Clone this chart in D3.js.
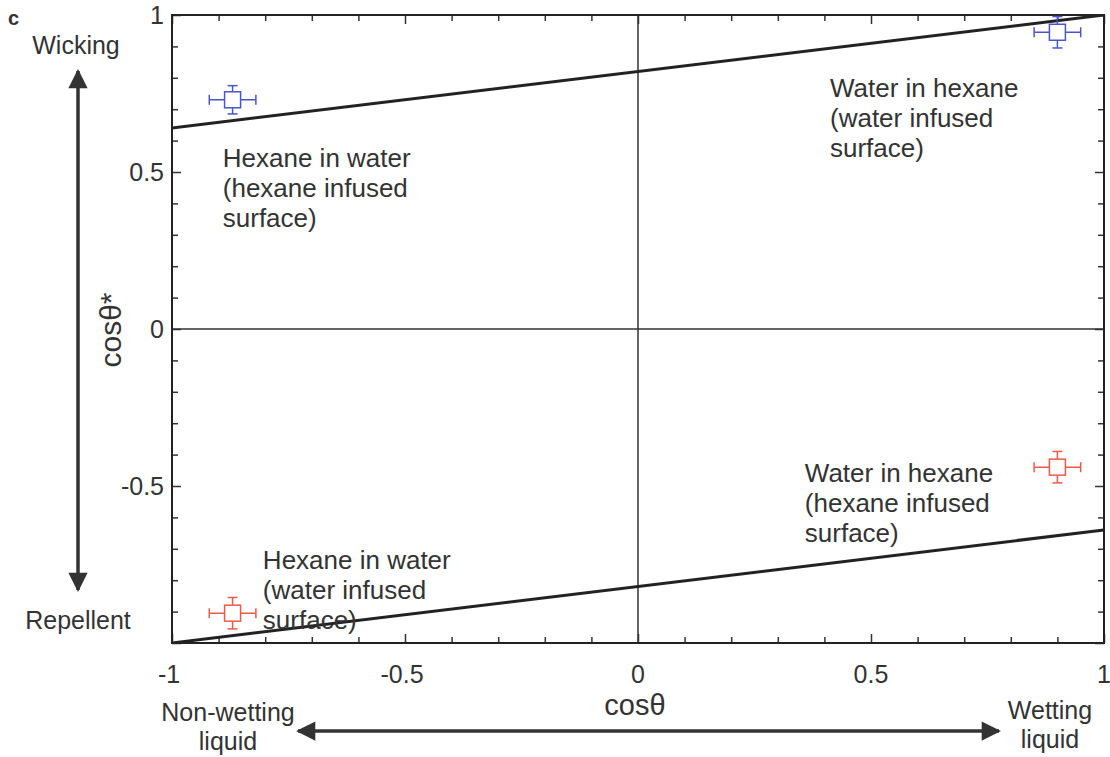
<!DOCTYPE html>
<html>
<head>
<meta charset="utf-8">
<script src="https://cdn.jsdelivr.net/npm/d3@7"></script>
<style>
  body { margin: 0; background: #fff; }
  text { font-family: "Liberation Sans", Arial, sans-serif; fill: #333; }
</style>
</head>
<body>
<div id="chart"></div>
<script>
// data
var xTicks = [-1, -0.5, 0, 0.5, 1];
var yTicks = [-0.5, 0, 0.5, 1];
var minorTicks = d3.range(-10, 11).map(function(i){ return i / 10; });

var boundLines = [
    [[-1, 0.64], [1, 1.0]],
    [[-1, -1.0], [1, -0.64]]
];

var pointsX = [-0.87, 0.90, 0.90, -0.87];
var pointsY = [0.73, 0.945, -0.44, -0.905];
var errX = [0.05, 0.05, 0.05, 0.05];
var errY = [0.045, 0.05, 0.05, 0.05];
var pointColor = ["#4a55cc", "#4a55cc", "#ee5a4a", "#ee5a4a"];

var notes = [
    {x: -0.891, y: 0.516, lines: ["Hexane in water", "(hexane infused", "surface)"]},
    {x: 0.412, y: 0.739, lines: ["Water in hexane", "(water infused", "surface)"]},
    {x: 0.358, y: -0.487, lines: ["Water in hexane", "(hexane infused", "surface)"]},
    {x: -0.805, y: -0.764, lines: ["Hexane in water", "(water infused", "surface)"]}
];

var margin = {top: 15, right: 6, bottom: 114, left: 172},
    width = 1110 - margin.left - margin.right,
    height = 757 - margin.top - margin.bottom;

var svgRoot = d3.select("#chart")
    .append("svg")
    .attr("width", 1110)
    .attr("height", 757);

var defs = svgRoot.append("defs");
defs.append("marker")
    .attr("id", "head")
    .attr("viewBox", "0 0 10 10")
    .attr("refX", 9).attr("refY", 5)
    .attr("markerWidth", 6.5).attr("markerHeight", 5.5)
    .attr("markerUnits", "strokeWidth")
    .attr("orient", "auto-start-reverse")
    .append("path")
    .attr("d", "M0,0 L10,5 L0,10 Z")
    .attr("fill", "#333");

var svg = svgRoot.append("g")
    .attr("transform", "translate(" + margin.left + "," + margin.top + ")");

var xScale = d3.scaleLinear().domain([-1, 1]).range([0, width]);
var yScale = d3.scaleLinear().domain([-1, 1]).range([height, 0]);

// inward ticks on all four sides, longer at the labelled values
function tickLen(v) { return Math.abs(v * 2 - Math.round(v * 2)) < 1e-6 ? 9 : 6; }

svg.append("g").attr("transform", "translate(0," + height + ")")
    .call(d3.axisBottom(xScale).tickValues(minorTicks).tickFormat("").tickSizeOuter(0).tickSizeInner(-6));
svg.append("g")
    .call(d3.axisTop(xScale).tickValues(minorTicks).tickFormat("").tickSizeOuter(0).tickSizeInner(-6));
svg.append("g")
    .call(d3.axisLeft(yScale).tickValues(minorTicks).tickFormat("").tickSizeOuter(0).tickSizeInner(-6));
svg.append("g").attr("transform", "translate(" + width + ",0)")
    .call(d3.axisRight(yScale).tickValues(minorTicks).tickFormat("").tickSizeOuter(0).tickSizeInner(-6));

svg.selectAll(".domain").remove();
svg.selectAll(".tick line").attr("stroke", "#333").attr("stroke-width", 1.5);
svg.selectAll(".tick").each(function(d) {
    var l = d3.select(this).select("line");
    var len = tickLen(d);
    if (l.attr("x2") !== null && +l.attr("x2") !== 0) l.attr("x2", +l.attr("x2") > 0 ? len : -len);
    if (l.attr("y2") !== null && +l.attr("y2") !== 0) l.attr("y2", +l.attr("y2") > 0 ? len : -len);
});

// zero lines
svg.append("line")
    .attr("x1", xScale(0)).attr("x2", xScale(0))
    .attr("y1", 0).attr("y2", height)
    .attr("stroke", "#333").attr("stroke-width", 1.5);
svg.append("line")
    .attr("x1", 0).attr("x2", width)
    .attr("y1", yScale(0)).attr("y2", yScale(0))
    .attr("stroke", "#333").attr("stroke-width", 1.5);

// frame
svg.append("rect")
    .attr("width", width).attr("height", height)
    .attr("fill", "none").attr("stroke", "#222").attr("stroke-width", 2);

// tick labels
svg.selectAll(".xlab").data(xTicks).enter().append("text")
    .attr("x", function(d){ return xScale(d) - (d < 0 ? 3 : 0); })
    .attr("y", height + 40)
    .attr("text-anchor", "middle")
    .style("font-size", "25px")
    .text(function(d){ return String(d); });

svg.selectAll(".ylab").data(yTicks).enter().append("text")
    .attr("x", -8)
    .attr("y", function(d){ return yScale(d) + 9; })
    .attr("text-anchor", "end")
    .style("font-size", "25px")
    .text(function(d){ return String(d); });

// boundary lines
var line = d3.line()
    .x(function(d){ return xScale(d[0]); })
    .y(function(d){ return yScale(d[1]); });

svg.append("clipPath").attr("id", "clip")
    .append("rect").attr("width", width).attr("height", height);

svg.selectAll(".bound").data(boundLines).enter().append("path")
    .attr("d", line)
    .attr("clip-path", "url(#clip)")
    .attr("fill", "none")
    .attr("stroke", "#222")
    .attr("stroke-width", 3);

// annotations
notes.forEach(function(n) {
    var t = svg.append("text")
        .attr("x", xScale(n.x))
        .attr("y", yScale(n.y))
        .style("font-size", "26px");
    n.lines.forEach(function(s, i) {
        t.append("tspan").attr("x", xScale(n.x)).attr("dy", i === 0 ? 0 : 30).text(s);
    });
});

// data points with error bars
var pts = svg.selectAll(".pt").data(pointsX).enter().append("g")
    .attr("stroke", function(d, i){ return pointColor[i]; })
    .attr("stroke-width", 1.5)
    .attr("fill", "none");

pts.append("line")
    .attr("x1", function(d, i){ return xScale(d - errX[i]); })
    .attr("x2", function(d, i){ return xScale(d + errX[i]); })
    .attr("y1", function(d, i){ return yScale(pointsY[i]); })
    .attr("y2", function(d, i){ return yScale(pointsY[i]); });
pts.append("line")
    .attr("x1", function(d){ return xScale(d); })
    .attr("x2", function(d){ return xScale(d); })
    .attr("y1", function(d, i){ return yScale(pointsY[i] - errY[i]); })
    .attr("y2", function(d, i){ return yScale(pointsY[i] + errY[i]); });
// caps
pts.each(function(d, i) {
    var g = d3.select(this);
    var cx = xScale(d), cy = yScale(pointsY[i]);
    [-1, 1].forEach(function(s) {
        var ex = xScale(d + s * errX[i]);
        var ey = yScale(pointsY[i] + s * errY[i]);
        g.append("line").attr("x1", ex).attr("x2", ex).attr("y1", cy - 5).attr("y2", cy + 5);
        g.append("line").attr("x1", cx - 5).attr("x2", cx + 5).attr("y1", ey).attr("y2", ey);
    });
});
pts.append("rect")
    .attr("x", function(d){ return xScale(d) - 8; })
    .attr("y", function(d, i){ return yScale(pointsY[i]) - 8; })
    .attr("width", 16).attr("height", 16)
    .attr("fill", "#fff");

// axis titles and side labels
svgRoot.append("text")
    .attr("x", 635).attr("y", 715)
    .attr("text-anchor", "middle")
    .style("font-size", "29px")
    .text("cosθ");

svgRoot.append("text")
    .attr("transform", "translate(121,330) rotate(-90)")
    .attr("text-anchor", "middle")
    .style("font-size", "30px")
    .text("cosθ*");

svgRoot.append("text")
    .attr("x", 8).attr("y", 25)
    .style("font-size", "20px").style("font-weight", "bold")
    .text("c");

svgRoot.append("text")
    .attr("x", 76).attr("y", 54)
    .attr("text-anchor", "middle")
    .style("font-size", "25px")
    .text("Wicking");
svgRoot.append("text")
    .attr("x", 78).attr("y", 629)
    .attr("text-anchor", "middle")
    .style("font-size", "25px")
    .text("Repellent");

var nw = svgRoot.append("text").attr("text-anchor", "middle").style("font-size", "25px");
nw.append("tspan").attr("x", 228).attr("y", 721).text("Non-wetting");
nw.append("tspan").attr("x", 228).attr("dy", 29).text("liquid");

var wt = svgRoot.append("text").attr("text-anchor", "middle").style("font-size", "25px");
wt.append("tspan").attr("x", 1050).attr("y", 719).text("Wetting");
wt.append("tspan").attr("x", 1050).attr("dy", 29).text("liquid");

// arrows
svgRoot.append("line")
    .attr("x1", 78).attr("y1", 71).attr("x2", 78).attr("y2", 590)
    .attr("stroke", "#333").attr("stroke-width", 3.5)
    .attr("marker-start", "url(#head)").attr("marker-end", "url(#head)");

svgRoot.append("line")
    .attr("x1", 298).attr("y1", 731).attr("x2", 999).attr("y2", 731)
    .attr("stroke", "#333").attr("stroke-width", 3.5)
    .attr("marker-start", "url(#head)").attr("marker-end", "url(#head)");
</script>
</body>
</html>
